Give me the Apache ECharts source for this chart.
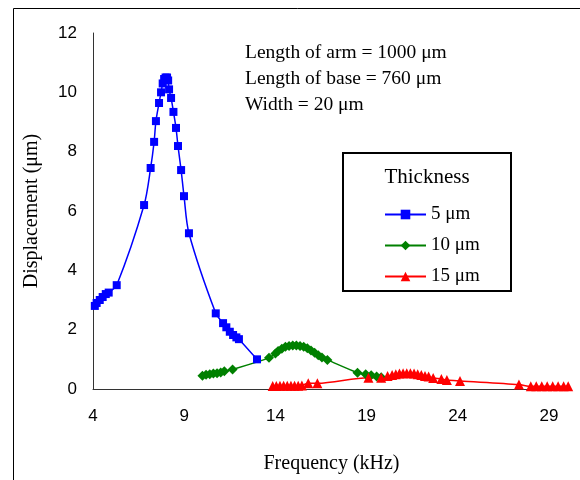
<!DOCTYPE html>
<html>
<head>
<meta charset="utf-8">
<script src="https://cdn.jsdelivr.net/npm/echarts@6/dist/echarts.min.js"></script>
<style>html,body{margin:0;padding:0;background:#fff;}#c{width:580px;height:480px;}</style>
</head>
<body>
<div id="c"></div>
<script>
// Thickness 5 um
const freq5 = [4.1,4.2,4.37,4.53,4.7,4.86,5.3,6.8,7.16,7.35,7.45,7.62,7.73,7.82,7.9,7.98,8.06,8.12,8.17,8.28,8.41,8.55,8.66,8.83,8.99,9.26,10.73,11.13,11.31,11.5,11.68,11.86,12.0,12.99];
const disp5 = [2.8,2.9,3.0,3.1,3.2,3.25,3.5,6.2,7.45,8.33,9.03,9.64,10.0,10.3,10.45,10.5,10.5,10.4,10.1,9.81,9.34,8.8,8.19,7.38,6.5,5.25,2.55,2.22,2.08,1.93,1.82,1.74,1.68,1.0];
// Thickness 10 um
const freq10 = [10.0,10.2,10.4,10.6,10.8,11.0,11.2,11.65,13.65,14.0,14.15,14.35,14.55,14.75,14.95,15.15,15.35,15.55,15.75,15.95,16.15,16.35,16.55,16.85,18.5,18.95,19.25,19.55,19.8];
const disp10 = [0.45,0.48,0.5,0.52,0.53,0.56,0.6,0.66,1.05,1.2,1.28,1.36,1.42,1.45,1.47,1.47,1.45,1.42,1.37,1.3,1.22,1.14,1.06,0.98,0.55,0.5,0.46,0.42,0.4];
// Thickness 15 um
const freq15 = [13.85,14.05,14.25,14.45,14.65,14.85,15.05,15.25,15.45,15.8,16.3,19.1,19.8,20.15,20.4,20.6,20.8,21.0,21.2,21.4,21.6,21.8,22.0,22.2,22.4,22.65,23.1,23.4,24.12,27.35,28.0,28.3,28.6,28.9,29.2,29.5,29.8,30.05];
const disp15 = [0.1,0.1,0.11,0.11,0.11,0.11,0.11,0.11,0.12,0.19,0.19,0.38,0.38,0.44,0.47,0.5,0.52,0.53,0.53,0.53,0.52,0.5,0.47,0.44,0.42,0.37,0.34,0.3,0.27,0.15,0.09,0.09,0.09,0.09,0.09,0.09,0.09,0.09];

const seriesNames = ['5 μm','10 μm','15 μm'];
const annotations = ['Length of arm = 1000 μm','Length of base = 760 μm','Width = 20 μm'];
const legendTitle = 'Thickness';
const xTitle = 'Frequency (kHz)';
const yTitle = 'Displacement (μm)';

const zip = (xs, ys) => xs.map((x, i) => [x, ys[i]]);
const serif = '"Liberation Serif","Times New Roman",serif';
const sans = '"Liberation Sans",Arial,sans-serif';

const chart = echarts.init(document.getElementById('c'));
chart.setOption({
  animation: false,
  backgroundColor: '#fff',
  grid: {left: 93, top: 33, right: 10, bottom: 91, containLabel: false},
  xAxis: {
    type: 'value', min: 4, max: 30.15, interval: 5,
    name: xTitle, nameLocation: 'middle', nameGap: 65,
    nameTextStyle: {fontFamily: serif, fontSize: 20, color: '#000'},
    axisLine: {show: true, lineStyle: {color: '#333', width: 1}},
    axisTick: {show: false},
    splitLine: {show: false},
    axisLabel: {fontFamily: sans, fontSize: 17, color: '#000', margin: 19, showMaxLabel: false}
  },
  yAxis: {
    type: 'value', min: 0, max: 12, interval: 2,
    name: yTitle, nameLocation: 'middle', nameGap: 51,
    nameTextStyle: {fontFamily: serif, fontSize: 20, color: '#000'},
    axisLine: {show: true, lineStyle: {color: '#333', width: 1}},
    axisTick: {show: false},
    splitLine: {show: false},
    axisLabel: {fontFamily: sans, fontSize: 17, color: '#000', margin: 16}
  },
  legend: {
    orient: 'vertical', left: 384, top: 205, padding: 0,
    itemWidth: 41, itemHeight: 12, itemGap: 12,
    textStyle: {fontFamily: serif, fontSize: 19, color: '#000'},
    data: seriesNames
  },
  graphic: [
    {type: 'rect', silent: true, z: -1, shape: {x: 13.5, y: 8.5, width: 620, height: 520}, style: {fill: 'none', stroke: '#000', lineWidth: 1}},
    {type: 'rect', silent: true, shape: {x: 343, y: 153, width: 168, height: 138}, style: {fill: '#fff', stroke: '#000', lineWidth: 2}, z: 0},
    {type: 'text', silent: true, x: 427, y: 177, style: {text: legendTitle, font: '21px ' + serif, fill: '#000', align: 'center', verticalAlign: 'middle'}, z: 5},
    {type: 'text', silent: true, x: 245, y: 53, style: {text: annotations[0], font: '19.5px ' + serif, fill: '#000', verticalAlign: 'middle'}},
    {type: 'text', silent: true, x: 245, y: 79, style: {text: annotations[1], font: '19.5px ' + serif, fill: '#000', verticalAlign: 'middle'}},
    {type: 'text', silent: true, x: 245, y: 105, style: {text: annotations[2], font: '19.5px ' + serif, fill: '#000', verticalAlign: 'middle'}}
  ],
  series: [
    {name: seriesNames[0], type: 'line', smooth: 0.3, data: zip(freq5, disp5),
     symbol: 'rect', symbolSize: 8, color: '#0000FF', lineStyle: {width: 1.5, color: '#0000FF'}, itemStyle: {color: '#0000FF'}},
    {name: seriesNames[1], type: 'line', smooth: 0.3, data: zip(freq10, disp10),
     symbol: 'diamond', symbolSize: 10, color: '#008000', lineStyle: {width: 1.5, color: '#008000'}, itemStyle: {color: '#008000'}},
    {name: seriesNames[2], type: 'line', smooth: 0.3, data: zip(freq15, disp15),
     symbol: 'triangle', symbolSize: 10, color: '#FF0000', lineStyle: {width: 1.5, color: '#FF0000'}, itemStyle: {color: '#FF0000'}}
  ]
});
</script>
</body>
</html>
